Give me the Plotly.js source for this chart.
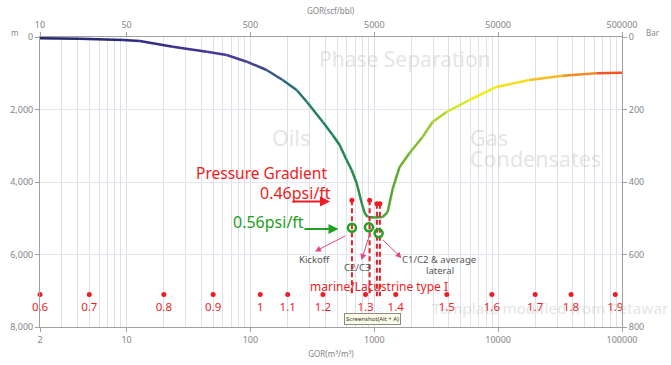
<!DOCTYPE html>
<html><head><meta charset="utf-8">
<script src="https://cdn.plot.ly/plotly-3.0.1.min.js"></script>
<style>html,body{margin:0;padding:0;background:#fff}#chart{width:671px;height:365px}</style>
</head><body><div id="chart"></div>
<script>
// GOR (m3/m3) vs depth (m) curve
const gorCurve = [2.0, 4.2, 9.34, 12.8, 23.6, 44.4, 64.4, 93.4, 135, 182, 236, 285, 383, 461, 525, 587, 656, 720, 791, 836, 884, 1006, 1167, 1281, 1406, 1601, 1927, 2453, 2953, 3831, 5872, 9694, 17890, 33020, 62100, 100000];
const depthCurve = [36, 50, 83, 110, 268, 406, 497, 681, 910, 1186, 1462, 1785, 2336, 2703, 2979, 3338, 3669, 4028, 4579, 4855, 4966, 4979, 4966, 4828, 4193, 3586, 3200, 2759, 2345, 2069, 1738, 1379, 1186, 1068, 1001, 985];

// maturity scale
const maturityLabels = ['0.6','0.7','0.8','0.9','1','1.1','1.2','1.3','1.4','1.5','1.6','1.7','1.8','1.9'];
const maturityGor = [2, 5, 20, 50, 120, 200, 385, 850, 1490, 3850, 8900, 19900, 38800, 88300];
const maturityDepth = 7100;
const maturityLabelDepth = 7480;

// red dashed marker lines
const dashGor = [660, 917, 1050, 1110];
const dashTop = [4500, 4500, 4600, 4600];
const dashBottom = 7150;

// green pressure-gradient points
const pointGor = [660, 905, 1084];
const pointDepth = [5260, 5250, 5415];

// axes ticks
const bottomTicks = [2, 10, 100, 1000, 10000, 100000];
const topTicks = [10, 50, 500, 5000, 50000, 500000];
const depthTicks = [0, 2000, 4000, 6000, 8000];
const barTicks = [0, 200, 400, 600, 800];
const minorGrid = [];
[1, 10, 100, 1000, 10000].forEach(d => { for (let k = 2; k <= 9; k++) { if (k * d > 2) minorGrid.push(k * d); } });

// color stops along log10(GOR)
const stops = [
  [0.30, [31, 38, 104]], [1.2, [50, 44, 132]], [1.8, [76, 56, 156]], [2.1, [64, 72, 142]],
  [2.3, [44, 104, 128]], [2.5, [32, 128, 100]], [2.8, [34, 138, 76]], [3.0, [64, 152, 56]],
  [3.2, [100, 174, 48]], [3.45, [158, 202, 50]], [3.7, [222, 230, 36]], [3.95, [248, 240, 28]],
  [4.25, [247, 210, 32]], [4.55, [246, 164, 36]], [5.0, [238, 64, 36]]
];
function colorAt(v) {
  if (v <= stops[0][0]) return 'rgb(' + stops[0][1].join(',') + ')';
  for (let i = 1; i < stops.length; i++) {
    if (v <= stops[i][0]) {
      const t = (v - stops[i-1][0]) / (stops[i][0] - stops[i-1][0]);
      const c = stops[i-1][1].map((a, j) => Math.round(a + t * (stops[i][1][j] - a)));
      return 'rgb(' + c.join(',') + ')';
    }
  }
  return 'rgb(' + stops[stops.length-1][1].join(',') + ')';
}

const traces = [];
for (let i = 0; i < gorCurve.length - 1; i++) {
  const mid = (Math.log10(gorCurve[i]) + Math.log10(gorCurve[i+1])) / 2;
  traces.push({
    x: [gorCurve[i], gorCurve[i+1]], y: [depthCurve[i], depthCurve[i+1]],
    type: 'scatter', mode: 'lines', hoverinfo: 'skip',
    line: {color: colorAt(mid), width: 2.5}
  });
}
const RED = '#ee1d25', GREEN = '#22a022';
dashGor.forEach((g, i) => {
  traces.push({x: [g, g], y: [dashTop[i], dashBottom], type: 'scatter', mode: 'lines', hoverinfo: 'skip',
    line: {color: RED, width: 2, dash: '5px,3px'}});
});
traces.push({x: dashGor, y: dashTop, type: 'scatter', mode: 'markers', hoverinfo: 'skip',
  marker: {color: RED, size: 5}});
traces.push({x: pointGor, y: pointDepth, type: 'scatter', mode: 'markers', hoverinfo: 'skip',
  marker: {symbol: 'circle-open', color: GREEN, size: 8, line: {width: 2.5, color: GREEN}}});
traces.push({x: maturityGor, y: maturityGor.map(() => maturityDepth),
  type: 'scatter', mode: 'markers', cliponaxis: false, hoverinfo: 'skip',
  marker: {color: RED, size: 5}});
traces.push({x: maturityGor, y: maturityGor.map(() => maturityLabelDepth), text: maturityLabels,
  type: 'scatter', mode: 'text', textposition: 'middle center', cliponaxis: false, hoverinfo: 'skip',
  textfont: {color: RED, size: 11.5, family: 'Noto Sans, sans-serif'}});
traces.push({x: [10], y: [0], xaxis: 'x2', yaxis: 'y2', type: 'scatter', mode: 'markers',
  marker: {opacity: 0}, hoverinfo: 'skip'});

const tickFont = {family: 'Noto Sans, sans-serif', size: 9, color: '#858585'};
const axisCommon = {showline: true, linecolor: '#a0a0a0', linewidth: 1, ticks: 'outside', ticklen: 4,
  tickcolor: '#a0a0a0', tickfont: tickFont, zeroline: false};

function px(x) { return (x - 40) / 582; }
function py(y) { return (327 - y) / 290; }
const ann = [];
function txt(t, x, y, size, color, xanchor, opacity) {
  ann.push({text: t, xref: 'paper', yref: 'paper', x: px(x), y: py(y), xanchor: xanchor || 'center',
    yanchor: 'middle', showarrow: false, opacity: opacity === undefined ? 1 : opacity,
    font: {family: 'Noto Sans, sans-serif', size: size, color: color}});
}
function arrow(hx, hy, tx, ty, color, width, size) {
  ann.push({text: '', xref: 'paper', yref: 'paper', x: px(hx), y: py(hy), ax: tx - hx, ay: ty - hy,
    showarrow: true, arrowhead: 2, arrowsize: size, arrowwidth: width, arrowcolor: color});
}
const WM = '#999999', WMO = 0.25;
txt('Phase Separation', 405, 59, 21, WM, 'center', WMO);
txt('Oils', 291, 137, 21.5, WM, 'center', WMO);
txt('Gas', 468, 137, 21.5, WM, 'left', WMO);
txt('Condensates', 468, 158, 21.5, WM, 'left', WMO);
txt('Template modified from Petawar', 671, 308, 15.3, WM, 'right', WMO);
txt('Pressure Gradient', 261, 172.5, 15.5, RED);
txt('0.46psi/ft', 295, 192.5, 16, RED);
txt('0.56psi/ft', 268.5, 221.5, 16, GREEN);
arrow(330, 201.5, 291, 201.5, RED, 2, 1);
arrow(338.5, 229, 303, 229, GREEN, 2, 1);
const PINK = '#e0457f';
arrow(315, 251.5, 347, 235, PINK, 1, 1.2);
arrow(361.5, 260, 370.5, 232, PINK, 1, 1.2);
arrow(401.5, 258, 381.5, 238.5, PINK, 1, 1.2);
txt('Kickoff', 314, 259.5, 9.5, '#555555');
txt('C2/C3', 357, 267.5, 9.5, '#555555');
txt('C1/C2 &amp; average', 439, 259.5, 9.5, '#555555');
txt('lateral', 440, 270.5, 9.5, '#555555');
txt('marine/Lacustrine type I', 379, 286.5, 12, RED);
txt('m', 14, 33, 8, '#858585');
txt('Bar', 653, 33, 8, '#858585');
txt('GOR(scf/bbl)', 331, 10.5, 8, '#858585');
ann.push({text: 'Screenshot(Alt + A)', xref: 'paper', yref: 'paper', x: px(372), y: py(319), xanchor: 'center',
  yanchor: 'middle', showarrow: false, bgcolor: '#fbfbe6', bordercolor: '#8a8a8a', borderwidth: 1, borderpad: 1,
  font: {family: 'Noto Sans, sans-serif', size: 6, color: '#333'}});

const layout = {
  width: 671, height: 365, margin: {l: 40, r: 49, t: 37, b: 38},
  paper_bgcolor: '#ffffff', plot_bgcolor: '#ffffff', showlegend: false, hovermode: false,
  xaxis: Object.assign({}, axisCommon, {type: 'log', range: [Math.log10(2) - 1e-5, 5], tickvals: bottomTicks,
    ticktext: bottomTicks.map(String), showgrid: true, gridcolor: '#dde1e8',
    minor: {tickvals: minorGrid, showgrid: true, gridcolor: '#dde1e8', ticks: ''},
    title: {text: 'GOR(m³/m³)', font: {family: 'Noto Sans, sans-serif', size: 8, color: '#858585'}, standoff: 6}}),
  xaxis2: Object.assign({}, axisCommon, {type: 'log', range: [1 - 1e-5, Math.log10(500000)], tickvals: topTicks,
    ticktext: topTicks.map(String), overlaying: 'x', side: 'top', anchor: 'y', showgrid: false}),
  yaxis: Object.assign({}, axisCommon, {range: [8000, 0], tickvals: depthTicks, tickformat: ',',
    showgrid: true, gridcolor: '#e3e6ec'}),
  yaxis2: Object.assign({}, axisCommon, {range: [800, 0], tickvals: barTicks, overlaying: 'y', side: 'right',
    anchor: 'x', showgrid: false}),
  annotations: ann
};
Plotly.newPlot('chart', traces, layout, {displayModeBar: false, staticPlot: true});
</script></body></html>
